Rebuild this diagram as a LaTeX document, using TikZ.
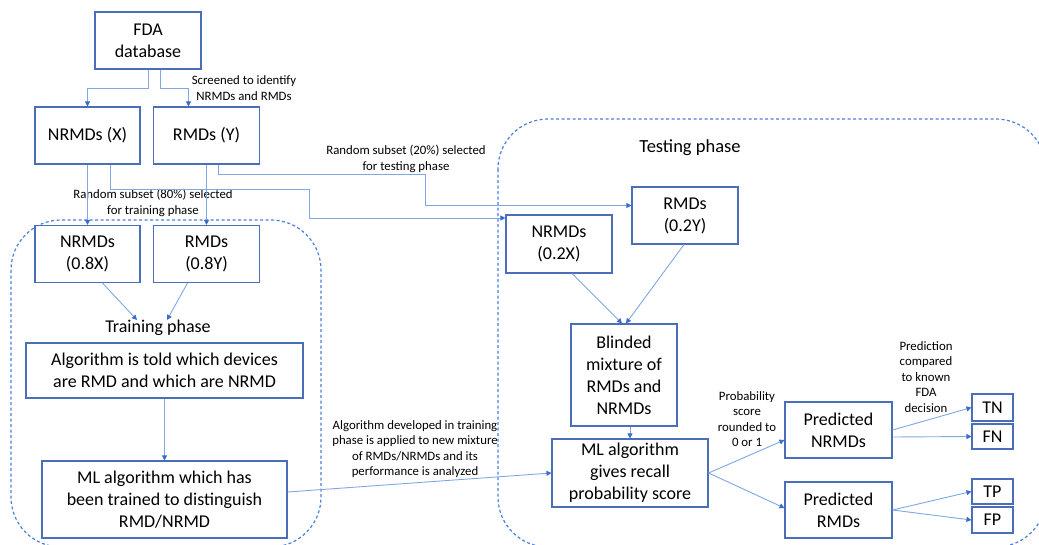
\documentclass[tikz,border=0pt]{standalone}
\usepackage{fontspec}
\setmainfont{Carlito}
\usetikzlibrary{arrows.meta,calc}
\definecolor{boxblue}{HTML}{4A6FB8}
\definecolor{lineblue}{HTML}{7FA7E3}
\definecolor{tipblue}{HTML}{3A6CD0}
\definecolor{phaseblue}{HTML}{4A80DA}

\begin{document}
\begin{tikzpicture}[x=1pt,y=-1pt,
  box/.style={draw=boxblue,line width=1.1pt,fill=white,align=center,inner sep=1pt,font=\fontsize{18}{22}\selectfont},
  note/.style={align=center,font=\fontsize{12.8}{15.5}\selectfont,inner sep=1pt},
  phase/.style={draw=phaseblue,line width=1.2pt,dash pattern=on 3pt off 2.5pt,rounded corners=50pt},
  arr/.style={draw=lineblue,line width=0.9pt,-{Triangle[length=5pt,width=5pt,color=tipblue]}}]
\useasboundingbox (0,0) rectangle (1039,544);
\clip (0,0) rectangle (1039,544);
% phase frames
\draw[phase] (11,220) rectangle (321,547);
\draw[phase] (498,119) rectangle (1046,547);
\node[font=\fontsize{18}{22}\selectfont,inner sep=0pt] (trainlbl) at (158,328) {Training phase};
\node[font=\fontsize{18.5}{22}\selectfont,inner sep=0pt] (testlbl) at (690,148) {Testing phase};

% boxes
\node[box,minimum width=106pt,minimum height=57pt] (fda) at (148,40.5) {FDA\\database};
\node[box,minimum width=105pt,minimum height=57pt] (nx) at (87.5,135.5) {NRMDs (X)};
\node[box,minimum width=106pt,minimum height=57pt] (ny) at (206.5,135.5) {RMDs (Y)};
\node[box,minimum width=105pt,minimum height=57pt] (nx8) at (87.5,254) {NRMDs\\(0.8X)};
\node[box,minimum width=106pt,minimum height=57pt] (ny8) at (206.5,254) {RMDs\\(0.8Y)};
\node[box,minimum width=277pt,minimum height=55pt] (told) at (164.5,370.5) {Algorithm is told which devices\\are RMD and which are NRMD};
\node[box,minimum width=245pt,minimum height=77pt] (mltrain) at (164.5,499.5) {ML algorithm which has\\been trained to distinguish\\RMD/NRMD};
\node[box,minimum width=106pt,minimum height=58pt] (nx2) at (559,244) {NRMDs\\(0.2X)};
\node[box,minimum width=106pt,minimum height=57pt] (ny2) at (685,215.5) {RMDs\\(0.2Y)};
\node[box,minimum width=106pt,minimum height=102pt] (blind) at (624,375) {Blinded\\mixture of\\RMDs and\\NRMDs};
\node[box,minimum width=156pt,minimum height=68pt] (mlgive) at (630,473) {ML algorithm\\gives recall\\probability score};
\node[box,minimum width=107pt,minimum height=56pt] (pn) at (838.5,430) {Predicted\\NRMDs};
\node[box,minimum width=107pt,minimum height=56pt] (pr) at (838.5,510) {Predicted\\RMDs};
\node[box,minimum width=41pt,minimum height=27pt] (tn) at (992.5,407.5) {TN};
\node[box,minimum width=41pt,minimum height=25pt] (fn) at (992.5,436.5) {FN};
\node[box,minimum width=41pt,minimum height=25pt] (tp) at (992.5,491.5) {TP};
\node[box,minimum width=41pt,minimum height=26pt] (fp) at (992.5,520) {FP};

% notes
\node[note] (screenlbl) at (244,88) {Screened to identify\\NRMDs and RMDs};
\node[note] (trainsub) at (153,203) {Random subset (80\%) selected\\for training phase};
\node[note] (testsub) at (406,159) {Random subset (20\%) selected\\for testing phase};
\node[note] (applylbl) at (415,449) {Algorithm developed in training\\phase is applied to new mixture\\of RMDs/NRMDs and its\\performance is analyzed};
\node[note] (roundlbl) at (747,419) {Probability\\score\\rounded to\\0 or 1};
\node[note] (cmplbl) at (926,377) {Prediction\\compared\\to known\\FDA\\decision};

% connectors
\draw[arr] (fda.south) -- ++(0,19) -| (nx.north);
\draw[arr] ([xshift=12pt]fda.south) -- ++(0,19) -| ([xshift=-18pt]ny.north);
\draw[arr] (nx) -- (nx8);
\draw[arr] (ny) -- (ny8);
\draw[arr] ([xshift=22.5pt]nx.south) -- ++(0,25) -- ++(199,0) |- ([yshift=26pt]nx2.west);
\draw[arr] ([xshift=12pt]ny.south) -- ++(0,10) -- ++(207,0) |- ([yshift=10pt]ny2.west);
\draw[arr] ([xshift=15pt]nx8.south) -- ([xshift=-21pt]trainlbl.north);
\draw[arr] ([xshift=-19pt]ny8.south) -- ([xshift=9pt]trainlbl.north);
\draw[arr] (told) -- (mltrain);
\draw[arr] ([yshift=7.5pt]mltrain.east) -- (mlgive.west);
\draw[arr] ([xshift=13pt]nx2.south) -- ([xshift=-2pt]blind.north);
\draw[arr] ([xshift=-1pt]ny2.south) -- ([xshift=2pt]blind.north);
\draw[arr] (mlgive.north |- blind.south) -- (mlgive.north);
\draw[arr] (mlgive.east) -- ([yshift=-10pt]pn.west);
\draw[arr] (mlgive.east) -- ([yshift=2pt]pr.west);
\draw[arr] (pn.east) -- (tn.west);
\draw[arr] ([yshift=-7pt]pn.east) -- (fn.west);
\draw[arr] (pr.east) -- (tp.west);
\draw[arr] (pr.east) -- (fp.west);
\end{tikzpicture}
\end{document}
